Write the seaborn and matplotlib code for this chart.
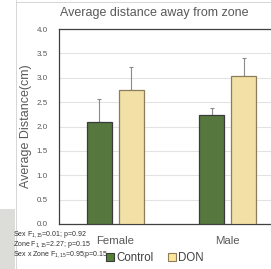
import matplotlib
matplotlib.use("Agg")
import matplotlib.pyplot as plt
import matplotlib.patches as mpatches
import seaborn as sns
import pandas as pd

# data
sexes = ["Female", "Female", "Male", "Male"]
groups = ["Control", "DON", "Control", "DON"]
means = [2.10, 2.75, 2.23, 3.03]
errors = [0.46, 0.47, 0.14, 0.37]
yticks = [0.0, 0.5, 1.0, 1.5, 2.0, 2.5, 3.0, 3.5, 4.0]
stats_lines = [
    r"Sex F$_{1,15}$=0.01; p=0.92",
    r"Zone F$_{1,15}$=2.27; p=0.15",
    r"Sex x Zone F$_{1,15}$=0.95;p=0.15",
]

df = pd.DataFrame({"sex": sexes, "group": groups, "mean": means, "err": errors})
palette = {"Control": "#548235", "DON": "#FFE699"}
edges = {"Control": "#3b3b3b", "DON": "#8c7e5a"}

sns.set_style("white")
plt.rcParams["font.family"] = ["Liberation Sans", "DejaVu Sans"]
plt.rcParams["mathtext.fontset"] = "custom"
plt.rcParams["mathtext.rm"] = "Liberation Sans"
plt.rcParams["mathtext.it"] = "Liberation Sans"

fig = plt.figure(figsize=(2.71, 2.69), dpi=100)
ax = fig.add_axes([59 / 271, 45 / 269, 225 / 271, 195 / 269])

sns.barplot(data=df, x="sex", y="mean", hue="group", palette=palette,
            width=0.572, gap=0.217, errorbar=None, legend=False,
            linewidth=0.9, ax=ax, zorder=3)

# outline colours and error bars taken from the drawn bars
for patch, (_, row) in zip(ax.patches, df.sort_values(["group", "sex"]).iterrows()):
    patch.set_edgecolor(edges[row["group"]])
    cx = patch.get_x() + patch.get_width() / 2
    ax.errorbar(cx, row["mean"], yerr=[[0], [row["err"]]], fmt="none",
                ecolor="#8a8a8a", elinewidth=0.8, capsize=1.5, capthick=0.8, zorder=2)

ax.set_ylim(0, 4.0)
ax.set_xlim(-0.5, 1.5)
ax.set_yticks(yticks)
ax.set_yticklabels([f"{v:.1f}" for v in yticks], fontsize=5.8, color="#595959")
ax.tick_params(axis="y", length=0, pad=8)
ax.tick_params(axis="x", length=0, pad=9, labelsize=8.2, labelcolor="#595959")
ax.yaxis.grid(True, color="#e3e3e3", linewidth=0.8, zorder=0)
ax.set_axisbelow(True)
ax.set_xlabel("")
ax.set_ylabel("Average Distance(cm)", fontsize=9, color="#595959", labelpad=3)
for side in ["left", "bottom", "top"]:
    ax.spines[side].set_color("#404040")
    ax.spines[side].set_linewidth(0.9)
ax.spines["right"].set_visible(False)

fig.text(154 / 271, 1 - 13 / 269, "Average distance away from zone",
         ha="center", va="center", fontsize=9, color="#595959")

# legend below the axes
handles = [mpatches.Patch(facecolor=palette[g], edgecolor=edges[g], linewidth=0.8, label=g)
           for g in ["Control", "DON"]]
fig.legend(handles=handles, loc="center", bbox_to_anchor=(155 / 271, 1 - 258 / 269),
           ncol=2, frameon=False, fontsize=8.3, handlelength=0.7, handleheight=0.7,
           handletextpad=0.2, columnspacing=1.2, labelcolor="#404040")

for i, line in enumerate(stats_lines):
    fig.text(13 / 271, 1 - (235 + i * 10) / 269, line, ha="left", va="center",
             fontsize=5, color="#303030")

# slide edge on the left side of the crop
fig.add_artist(mpatches.Rectangle((0, 0), 15 / 271, 60 / 269, transform=fig.transFigure,
                                  facecolor="#dcdcd9", edgecolor="none", zorder=-1))
fig.add_artist(plt.Line2D([16 / 271, 16 / 271], [0, 1], transform=fig.transFigure,
                          color="#d0d0d0", linewidth=0.6))
fig.add_artist(plt.Line2D([16 / 271, 1], [1 - 1.5 / 269, 1 - 1.5 / 269],
                          transform=fig.transFigure, color="#d0d0d0", linewidth=0.6))

fig.savefig("out.png", dpi=100)
